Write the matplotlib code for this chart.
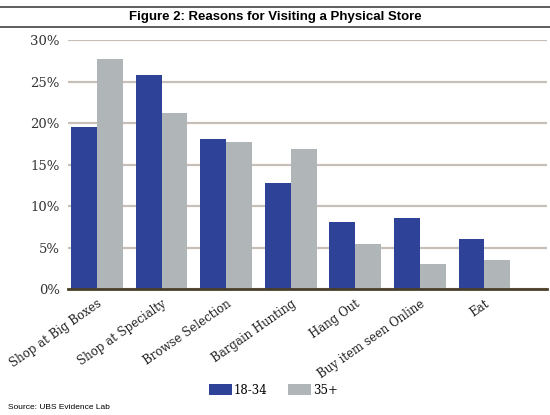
import numpy as np
import matplotlib
matplotlib.use("Agg")
import matplotlib.pyplot as plt
from matplotlib.lines import Line2D
from matplotlib.ticker import FuncFormatter

# data
categories = ["Shop at Big Boxes", "Shop at Specialty", "Browse Selection",
              "Bargain Hunting", "Hang Out", "Buy item seen Online", "Eat"]
young = [19.5, 25.8, 18.1, 12.8, 8.1, 8.5, 6.0]
older = [27.7, 21.2, 17.7, 16.9, 5.4, 3.0, 3.5]
series_names = ["18-34", "35+"]

blue = "#2e4397"
grey = "#b0b5b8"
plt.rcParams["font.family"] = "DejaVu Serif"

fig = plt.figure(figsize=(5.5, 4.15), dpi=100)
ax = fig.add_axes([0.1236, 0.3036, 0.871, 0.6])

x = np.arange(len(categories))
w = 0.4
ax.bar(x - w / 2, young, w, color=blue, label=series_names[0], zorder=3)
ax.bar(x + w / 2, older, w, color=grey, label=series_names[1], zorder=3)

ax.set_xlim(-0.45, 6.97)
ax.set_ylim(0, 30)
ax.set_yticks(np.arange(0, 31, 5))
ax.yaxis.set_major_formatter(FuncFormatter(lambda v, p: f"{v:.0f}%"))
ax.grid(axis="y", color="#c8c0b8", linewidth=1.6, zorder=0)
for s in ["top", "right", "left"]:
    ax.spines[s].set_visible(False)
ax.spines["bottom"].set_color("#4a3f2a")
ax.spines["bottom"].set_linewidth(2.0)
ax.spines["bottom"].set_zorder(4)
ax.tick_params(length=0, pad=6, labelcolor="#333333",
               labelfontfamily="DejaVu Serif")
ax.tick_params(axis="y", labelsize=9.5)

ax.set_xticks(x)
ax.set_xticklabels(categories, rotation=35, ha="right", rotation_mode="anchor",
                   fontsize=8.5, color="#222222")

fig.legend(loc="center", bbox_to_anchor=(0.497, 0.06), ncol=2, frameon=False,
           prop={"size": 8.5}, handlelength=2.0,
           handleheight=1.0, handletextpad=0.15, columnspacing=1.7)

# title block with rules above and below
fig.add_artist(Line2D([0, 1], [0.984, 0.984], color="#333333", linewidth=1.1))
fig.add_artist(Line2D([0, 1], [0.934, 0.934], color="#333333", linewidth=1.1))
fig.text(0.5, 0.959, "Figure 2: Reasons for Visiting a Physical Store",
         ha="center", va="center", fontfamily="Liberation Sans",
         fontweight="bold", fontsize=9.5)
fig.text(0.015, 0.017, "Source: UBS Evidence Lab", ha="left", va="center",
         fontfamily="Liberation Sans", fontsize=6)

fig.savefig("out.png", dpi=100)
